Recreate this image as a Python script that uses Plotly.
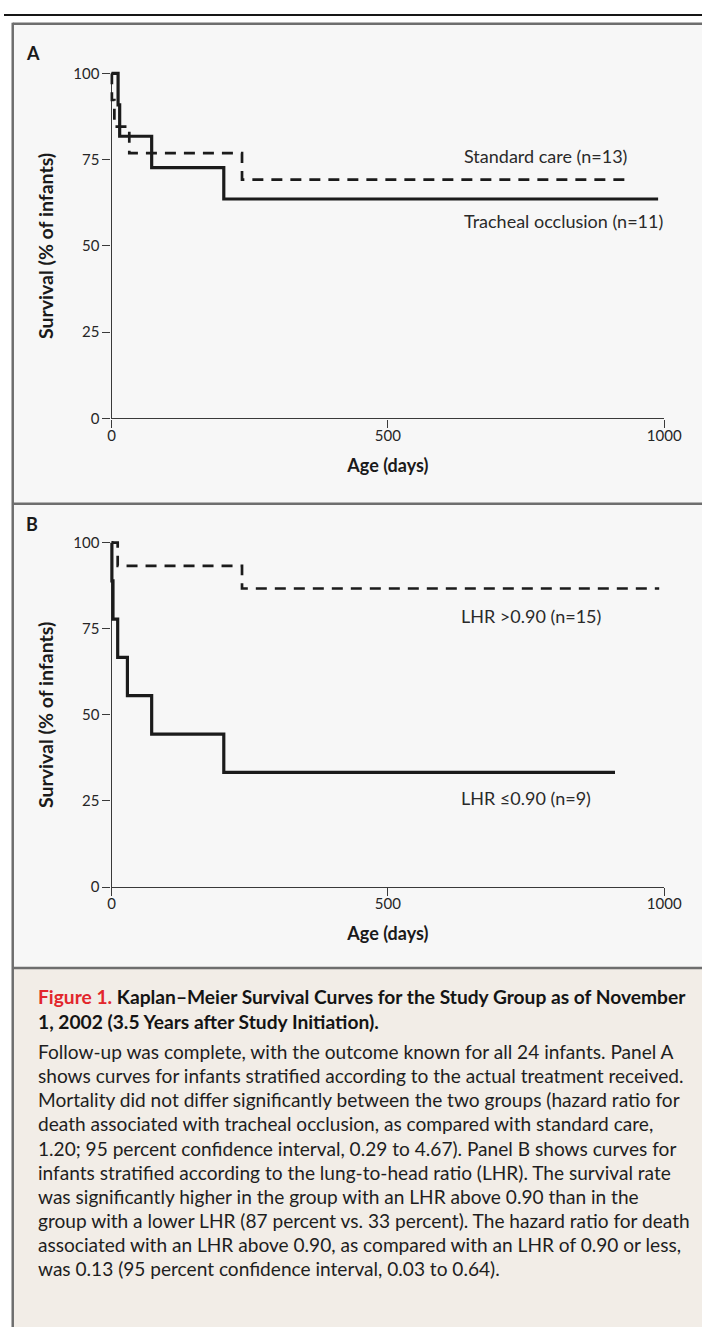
import plotly.graph_objects as go

# ---------------- data ----------------
# Panel A: survival by actual treatment received
a_occl_days = [0, 11.7, 14.6, 72.5, 203, 989]
a_occl_surv = [100, 90.9, 81.8, 72.7, 63.6, 63.6]
a_std_days = [0, 0.5, 5, 32, 236, 928]
a_std_surv = [100, 92.3, 84.6, 76.9, 69.2, 69.2]

# Panel B: survival by lung-to-head ratio
b_low_days = [0, 0.5, 2.5, 11, 28.6, 72.5, 203, 911]
b_low_surv = [100, 88.9, 77.8, 66.7, 55.6, 44.4, 33.3, 33.3]
b_high_days = [0, 11, 236, 991]
b_high_surv = [100, 93.3, 86.7, 86.7]

x_ticks = [0, 500, 1000]
y_ticks = [0, 25, 50, 75, 100]

label_a_std = "Standard care (n=13)"
label_a_occl = "Tracheal occlusion (n=11)"
label_b_high = "LHR >0.90 (n=15)"
label_b_low = "LHR ≤0.90 (n=9)"

caption_head = [
    "<span style='color:#e2262c'>Figure 1.</span> Kaplan–Meier Survival Curves for the Study Group as of November",
    "1, 2002 (3.5 Years after Study Initiation).",
]
caption_body = [
    "Follow-up was complete, with the outcome known for all 24 infants. Panel A",
    "shows curves for infants stratified according to the actual treatment received.",
    "Mortality did not differ significantly between the two groups (hazard ratio for",
    "death associated with tracheal occlusion, as compared with standard care,",
    "1.20; 95 percent confidence interval, 0.29 to 4.67). Panel B shows curves for",
    "infants stratified according to the lung-to-head ratio (LHR). The survival rate",
    "was significantly higher in the group with an LHR above 0.90 than in the",
    "group with a lower LHR (87 percent vs. 33 percent). The hazard ratio for death",
    "associated with an LHR above 0.90, as compared with an LHR of 0.90 or less,",
    "was 0.13 (95 percent confidence interval, 0.03 to 0.64).",
]

# ---------------- geometry ----------------
W, H = 720, 1335
def px(x):
    return x / W
def py(y):
    return 1 - y / H

X0, X1 = 111, 681            # pixel of day 0 / day 1000
A_Y0, A_Y100 = 414, 64.3     # panel A pixel of 0% / 100%
B_Y0, B_Y100 = 889, 540      # panel B
PAD = 15
kx = (X1 - X0) / 1000.0
kyA = (A_Y0 - A_Y100) / 100.0
kyB = (B_Y0 - B_Y100) / 100.0

INK = "#1b1b1b"
AX = "#3a3a3a"
FONT = "Lato"
BORDER = "#6e6e6e"

fig = go.Figure()

# empty traces so the framing axes (ticks, lines, titles) are drawn
for xa, ya in (("x", "y"), ("x2", "y2")):
    fig.add_trace(go.Scatter(x=[], y=[], mode="lines", xaxis=xa, yaxis=ya,
                             showlegend=False, hoverinfo="skip"))

def km(x, y, axes, dashed, width):
    fig.add_trace(go.Scatter(
        x=x, y=y, mode="lines",
        line=dict(shape="hv", color=INK, width=width,
                  dash="11px,8px" if dashed else "solid"),
        xaxis=axes[0], yaxis=axes[1], showlegend=False, hoverinfo="skip"))

km(a_std_days, a_std_surv, ("x3", "y3"), True, 2.7)
km(a_occl_days, a_occl_surv, ("x3", "y3"), False, 3.2)
km(b_high_days, b_high_surv, ("x4", "y4"), True, 2.7)
km(b_low_days, b_low_surv, ("x4", "y4"), False, 3.2)

tickfont = dict(family=FONT, size=15, color="#262626")
frame = dict(showline=True, linecolor=AX, linewidth=1.3, ticks="outside",
             ticklen=8, tickwidth=1.3, tickcolor=AX, showgrid=False,
             zeroline=False, tickfont=tickfont, fixedrange=True)

def xframe(anchor):
    return dict(**frame, domain=[px(X0), px(X1)], range=[0, 1000],
                tickvals=x_ticks, anchor=anchor, ticklabelstandoff=-5,
                title=dict(text="<b>Age (days)</b>",
                           font=dict(family=FONT, size=18, color="#1a1a1a"), standoff=16))

def yframe(anchor, y0, y100):
    return dict(**frame, domain=[py(y0), py(y100)], range=[0, 100],
                tickvals=y_ticks, anchor=anchor,
                title=dict(text="<b>Survival (% of infants)</b>",
                           font=dict(family=FONT, size=19.5, color="#1a1a1a"), standoff=14))

def xdata(anchor):
    return dict(visible=False, domain=[px(X0 - PAD), px(X1 + PAD)],
                range=[-PAD / kx, 1000 + PAD / kx], anchor=anchor, fixedrange=True)

def ydata(anchor, y0, y100, ky):
    return dict(visible=False, domain=[py(y0 + PAD), py(y100 - PAD)],
                range=[-PAD / ky, 100 + PAD / ky], anchor=anchor, fixedrange=True)

shapes = [
    # backgrounds
    dict(type="rect", xref="paper", yref="paper", x0=px(9), x1=1, y0=py(971), y1=py(14),
         fillcolor="#f7f7f7", line=dict(width=0), layer="below"),
    dict(type="rect", xref="paper", yref="paper", x0=px(9), x1=1, y0=0, y1=py(971),
         fillcolor="#f2ede7", line=dict(width=0), layer="below"),
    # top rule
    dict(type="line", xref="paper", yref="paper", x0=0, x1=1, y0=py(5), y1=py(5),
         line=dict(color="#161616", width=2), layer="below"),
    # gray frame
    dict(type="line", xref="paper", yref="paper", x0=px(9), x1=1, y0=py(14), y1=py(14),
         line=dict(color=BORDER, width=2.5), layer="below"),
    dict(type="line", xref="paper", yref="paper", x0=px(9), x1=px(9), y0=0, y1=py(13),
         line=dict(color=BORDER, width=2.5), layer="below"),
    dict(type="line", xref="paper", yref="paper", x0=px(9), x1=1, y0=py(500.5), y1=py(500.5),
         line=dict(color=BORDER, width=2.5), layer="below"),
    dict(type="line", xref="paper", yref="paper", x0=px(9), x1=1, y0=py(971), y1=py(971),
         line=dict(color=BORDER, width=2.5), layer="below"),
]

ann = []
def text(x, y, s, size=16, bold=False, color="#2a2a2a"):
    ann.append(dict(x=px(x), y=py(y), xref="paper", yref="paper", text=("<b>%s</b>" % s) if bold else s,
                    showarrow=False, xanchor="left", yanchor="middle",
                    font=dict(family=FONT, size=size, color=color)))

text(21, 44, "A", size=18, bold=True, color="#1a1a1a")
text(21, 521, "B", size=18, bold=True, color="#1a1a1a")
text(472, 148, label_a_std, size=18)
text(472, 214, label_a_occl, size=18)
text(469, 614, label_b_high, size=18)
text(469, 799, label_b_low, size=18)

head_y = [1000, 1025]
for s, y in zip(caption_head, head_y):
    text(33, y, s, size=19.2, bold=True, color="#141414")
body_y0, body_dy = 1056, 24.4
for i, s in enumerate(caption_body):
    text(33, body_y0 + i * body_dy, s, size=19.1, color="#1e1e1e")

fig.update_layout(
    width=W, height=H, autosize=False, margin=dict(l=0, r=0, t=0, b=0),
    paper_bgcolor="white", plot_bgcolor="rgba(0,0,0,0)",
    xaxis=xframe("y"), yaxis=yframe("x", A_Y0, A_Y100),
    xaxis2=xframe("y2"), yaxis2=yframe("x2", B_Y0, B_Y100),
    xaxis3=xdata("y3"), yaxis3=ydata("x3", A_Y0, A_Y100, kyA),
    xaxis4=xdata("y4"), yaxis4=ydata("x4", B_Y0, B_Y100, kyB),
    shapes=shapes, annotations=ann, showlegend=False,
)

# pin the 720x1335 figure to the top-left corner of the window
PIN = ("document.documentElement.style.margin='0px';"
       "document.body.style.margin='0px';"
       "var g=document.querySelector('.plotly-graph-div');"
       "g.style.position='fixed';g.style.left='0px';g.style.top='0px';")

fig.write_html("out.html",
               config={"responsive": False, "displayModeBar": False},
               post_script=PIN)
